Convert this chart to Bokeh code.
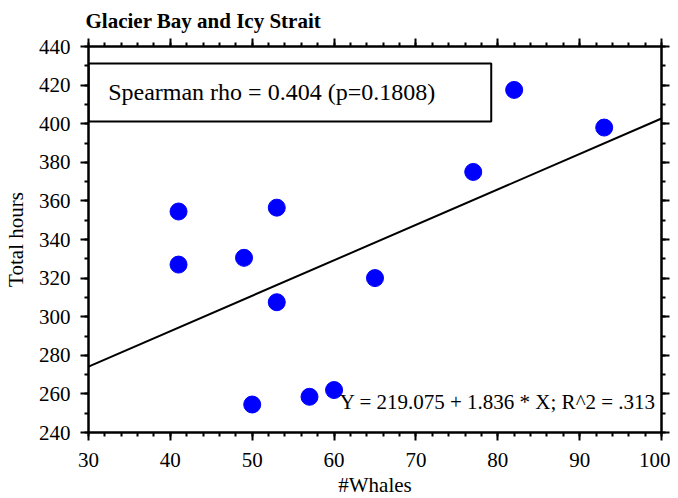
from bokeh.plotting import figure
from bokeh.models import (Range1d, LinearAxis, SingleIntervalTicker, BoxAnnotation, Label,
                          CustomJSTickFormatter)
from bokeh.embed import file_html
from bokeh.resources import INLINE

# ---- data ----
whales = [41, 41, 49, 50, 53, 53, 57, 60, 65, 77, 82, 93]
hours = [354.5, 327, 330.5, 254.5, 356.5, 307.5, 258.5, 262, 320, 375, 417.5, 398]
intercept = 219.075
slope = 1.836
x_line = [30, 100]
y_line = [intercept + slope * v for v in x_line]
title_text = "Glacier Bay and Icy Strait"
spearman_text = "Spearman rho = 0.404 (p=0.1808)"
eq_text = "Y = 219.075 + 1.836 * X; R^2 = .313"

FONT = "Liberation Serif"

p = figure(frame_width=573, frame_height=386, output_backend="svg", toolbar_location=None,
           x_range=Range1d(30, 100), y_range=Range1d(240, 440),
           min_border_left=80, min_border_right=9, min_border_top=46, min_border_bottom=65,
           x_axis_label="#Whales", y_axis_label="Total hours")
p.grid.visible = False
p.outline_line_color = "black"
p.outline_line_width = 2
p.background_fill_color = "white"
p.border_fill_color = "white"

p.title.text = title_text
p.title.text_font = FONT
p.title.text_font_style = "bold"
p.title.text_font_size = "21px"
p.title.text_color = "black"
p.title.align = "left"
p.title.offset = -3
p.title.standoff = 11


def style_axis(ax, labels=True):
    ax.axis_line_width = 2
    ax.axis_line_color = "black"
    ax.major_tick_out = 8
    ax.major_tick_in = 0
    ax.minor_tick_out = 4
    ax.minor_tick_in = 0
    ax.major_tick_line_width = 2
    ax.minor_tick_line_width = 2
    ax.major_tick_line_color = "black"
    ax.minor_tick_line_color = "black"
    if labels:
        ax.major_label_text_font = FONT
        ax.major_label_text_font_size = "21px"
        ax.major_label_text_color = "black"
        ax.axis_label_text_font = FONT
        ax.axis_label_text_font_size = "21px"
        ax.axis_label_text_font_style = "normal"
        ax.axis_label_text_color = "black"
    else:
        ax.formatter = CustomJSTickFormatter(code="return ''")
        ax.major_label_standoff = 0


p.xaxis.ticker = SingleIntervalTicker(interval=10, num_minor_ticks=5)
p.yaxis.ticker = SingleIntervalTicker(interval=20, num_minor_ticks=2)
style_axis(p.xaxis[0])
style_axis(p.yaxis[0])
p.xaxis.major_label_standoff = 12
p.xaxis.axis_label_standoff = 3
p.yaxis.major_label_standoff = 10
p.yaxis.axis_label_standoff = 8
p.yaxis.major_label_orientation = "horizontal"

top_ax = LinearAxis(ticker=SingleIntervalTicker(interval=10, num_minor_ticks=5))
style_axis(top_ax, labels=False)
p.add_layout(top_ax, "above")
right_ax = LinearAxis(ticker=SingleIntervalTicker(interval=20, num_minor_ticks=2))
style_axis(right_ax, labels=False)
p.add_layout(right_ax, "right")

# regression line
p.line(x_line, y_line, line_color="black", line_width=2)

# points
p.scatter(whales, hours, size=17, fill_color="#0000ff", line_color="#0000ff")

# Spearman box
box = BoxAnnotation(left=30, right=79.2, bottom=401.2, top=431.2,
                    fill_alpha=0, line_color="black", line_alpha=1, line_width=2)
p.add_layout(box)
p.add_layout(Label(x=32.4, y=416.2, text=spearman_text, text_font=FONT,
                   text_font_size="24px", text_baseline="middle", text_color="black"))
p.add_layout(Label(x=60.7, y=255.6, text=eq_text, text_font=FONT,
                   text_font_size="21px", text_baseline="middle", text_color="black"))

open("out.html", "w").write(file_html(p, INLINE))
